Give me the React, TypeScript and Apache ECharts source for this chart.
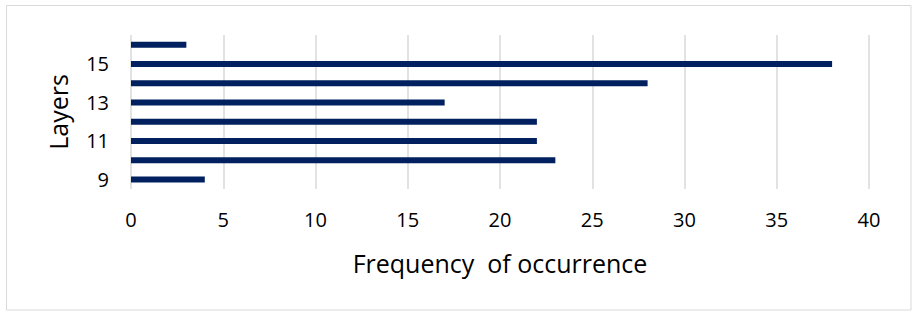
import React, { useEffect, useRef } from "react";
import * as echarts from "echarts";

const categories = ["9", "10", "11", "12", "13", "14", "15", "16"];
const values = [4, 23, 22, 22, 17, 28, 38, 3];
const xTicks = [0, 5, 10, 15, 20, 25, 30, 35, 40];

export default function App() {
  const ref = useRef<HTMLDivElement>(null);
  useEffect(() => {
    if (!ref.current) return;
    const chart = echarts.init(ref.current, undefined, { renderer: "svg" });
    const font = "'Open Sans', 'Noto Sans', sans-serif";
    chart.setOption({
      animation: false,
      backgroundColor: "#ffffff",
      textStyle: { fontFamily: font },
      graphic: [
        {
          type: "rect",
          shape: { x: 6.5, y: 5.5, width: 904.5, height: 304.5 },
          style: { fill: "none", stroke: "#d9d9d9", lineWidth: 1 },
          silent: true,
        },
      ],
      grid: { left: 131, right: 50, top: 35, bottom: 122, containLabel: false },
      xAxis: {
        type: "value",
        min: xTicks[0],
        max: xTicks[xTicks.length - 1],
        interval: 5,
        name: "Frequency  of occurrence",
        nameLocation: "middle",
        nameGap: 61,
        nameTextStyle: { fontSize: 25, color: "#000", fontFamily: font },
        axisLine: { show: false },
        axisTick: { show: false },
        axisLabel: { fontSize: 20, color: "#000", margin: 20, fontFamily: font },
        splitLine: { show: true, lineStyle: { color: "#d9d9d9", width: 1.5 } },
      },
      yAxis: {
        type: "category",
        data: categories,
        name: "Layers",
        nameLocation: "middle",
        nameRotate: 90,
        nameGap: 61,
        nameTextStyle: { fontSize: 25, color: "#000", fontFamily: font },
        axisLine: { show: false },
        axisTick: { show: false },
        axisLabel: { interval: 1, fontSize: 20, color: "#000", margin: 22, fontFamily: font },
        splitLine: { show: false },
      },
      series: [
        {
          type: "bar",
          data: values,
          barWidth: 6,
          itemStyle: { color: "#002060" },
        },
      ],
    });
    return () => chart.dispose();
  }, []);
  return (
    <div
      ref={ref}
      style={{ position: "absolute", left: 0, top: 0, width: 919, height: 311 }}
    />
  );
}
